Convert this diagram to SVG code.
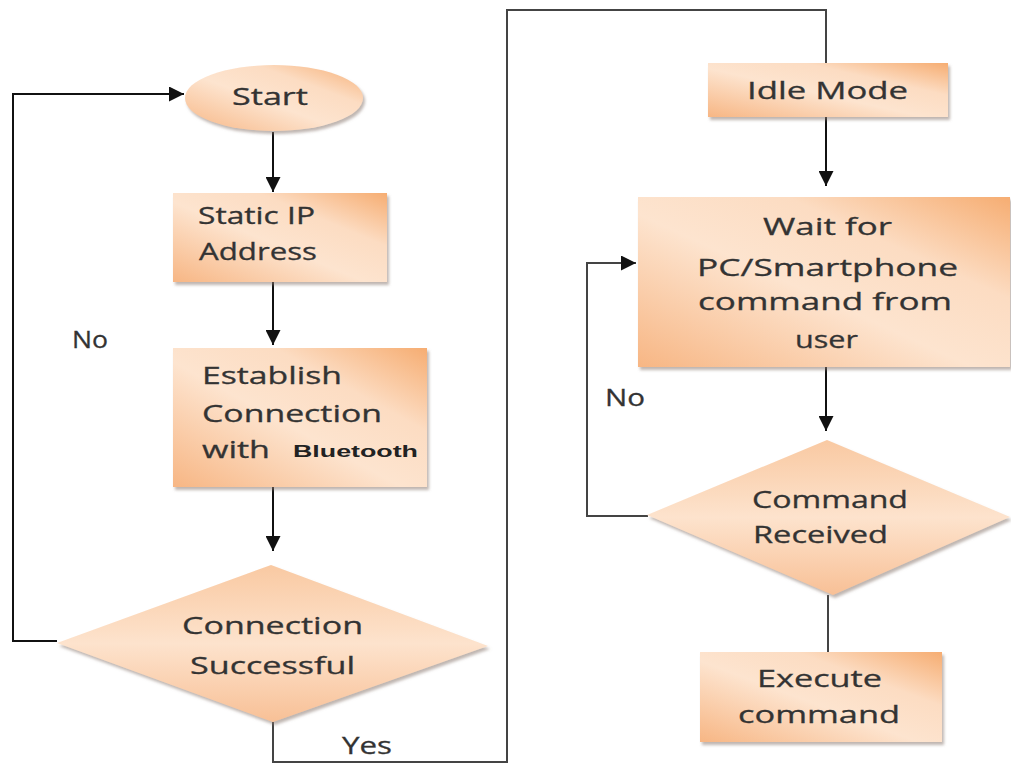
<svg xmlns="http://www.w3.org/2000/svg" width="1011" height="763" viewBox="0 0 1011 763">
  <defs>
    <linearGradient id="fillBox" x1="0" y1="1" x2="1" y2="0">
      <stop offset="0" stop-color="#f7b684"/>
      <stop offset="0.45" stop-color="#fde4cf"/>
      <stop offset="0.7" stop-color="#fcdcc2"/>
      <stop offset="1" stop-color="#f6ad72"/>
    </linearGradient>
    <linearGradient id="fillDiamond" x1="0" y1="0" x2="0" y2="1">
      <stop offset="0" stop-color="#f9c9a2"/>
      <stop offset="0.5" stop-color="#fde3cd"/>
      <stop offset="1" stop-color="#f8c096"/>
    </linearGradient>
    <filter id="shadow" x="-10%" y="-10%" width="125%" height="130%">
      <feDropShadow dx="2" dy="3" stdDeviation="1.5" flood-color="#8a7a70" flood-opacity="0.55"/>
    </filter>
    <marker id="arrow" viewBox="0 0 10 10" refX="10" refY="5" markerWidth="7.5" markerHeight="7.5" markerUnits="strokeWidth" orient="auto">
      <path d="M0,0 L10,5 L0,10 z" fill="#111"/>
    </marker>
  </defs>
  <style>
    .box { fill: url(#fillBox); filter: url(#shadow); }
    .dia { fill: url(#fillDiamond); filter: url(#shadow); }
    .lbl { font-family: "Open Sans", "Liberation Sans", sans-serif; font-size: 24px; fill: #333333; stroke: #333333; stroke-width: 0.3; }
    .bt { font-family: "Liberation Sans", Arial, sans-serif; font-size: 16px; font-weight: bold; fill: #222; }
    .ln { fill: none; stroke: #111; stroke-width: 2; }
    .ln2 { fill: none; stroke: #444; stroke-width: 2; }
  </style>
  <rect width="1011" height="763" fill="#ffffff"/>

  <!-- connectors -->
  <g id="connectors">
    <path class="ln" d="M273,132 V192" marker-end="url(#arrow)"/>
    <path class="ln" d="M273,282 V345" marker-end="url(#arrow)"/>
    <path class="ln" d="M273,487 V551" marker-end="url(#arrow)"/>
    <!-- No loop back to Start -->
    <path class="ln" d="M57,641 H13 V94 H184" marker-end="url(#arrow)"/>
    <!-- Yes path to Idle Mode -->
    <path class="ln2" d="M273,722 V762 H507 V10 H826 V63"/>
    <path class="ln" d="M826,117 V186" marker-end="url(#arrow)"/>
    <path class="ln" d="M826,367 V431" marker-end="url(#arrow)"/>
    <!-- No loop back to Wait -->
    <path class="ln2" d="M648,516 H587 V263 H636" marker-end="url(#arrow)"/>
    <path class="ln2" d="M828,595 V652"/>
  </g>

  <g id="start">
    <ellipse class="box" cx="274" cy="98" rx="89" ry="33"/>
    <text class="lbl" x="232" y="105" textLength="76" lengthAdjust="spacingAndGlyphs">Start</text>
  </g>

  <g id="static-ip">
    <rect class="box" x="173" y="193" width="214" height="89"/>
    <text class="lbl" x="198" y="224" textLength="117" lengthAdjust="spacingAndGlyphs">Static IP</text>
    <text class="lbl" x="199" y="260" textLength="118" lengthAdjust="spacingAndGlyphs">Address</text>
  </g>

  <g id="establish">
    <rect class="box" x="173" y="348" width="254" height="139"/>
    <text class="lbl" x="202" y="384" textLength="140" lengthAdjust="spacingAndGlyphs">Establish</text>
    <text class="lbl" x="202" y="422" textLength="180" lengthAdjust="spacingAndGlyphs">Connection</text>
    <text class="lbl" x="202" y="458" textLength="68" lengthAdjust="spacingAndGlyphs">with</text>
    <text class="bt" x="293" y="457" textLength="125" lengthAdjust="spacingAndGlyphs">Bluetooth</text>
  </g>

  <g id="connection-successful">
    <polygon class="dia" points="271,565 488,646 273,722 57,643"/>
    <text class="lbl" x="182" y="634" textLength="181" lengthAdjust="spacingAndGlyphs">Connection</text>
    <text class="lbl" x="190" y="674" textLength="165" lengthAdjust="spacingAndGlyphs">Successful</text>
  </g>

  <g id="idle-mode">
    <rect class="box" x="708" y="63" width="240" height="54"/>
    <text class="lbl" x="747" y="99" textLength="161" lengthAdjust="spacingAndGlyphs">Idle Mode</text>
  </g>

  <g id="wait">
    <rect class="box" x="638" y="197" width="372" height="170"/>
    <text class="lbl" x="763" y="235" textLength="129" lengthAdjust="spacingAndGlyphs">Wait for</text>
    <text class="lbl" x="697" y="276" textLength="261" lengthAdjust="spacingAndGlyphs">PC/Smartphone</text>
    <text class="lbl" x="698" y="310" textLength="254" lengthAdjust="spacingAndGlyphs">command from</text>
    <text class="lbl" x="795" y="348" textLength="63" lengthAdjust="spacingAndGlyphs">user</text>
  </g>

  <g id="command-received">
    <polygon class="dia" points="827,440 1010,517 833,595 647,515"/>
    <text class="lbl" x="752" y="508" textLength="156" lengthAdjust="spacingAndGlyphs">Command</text>
    <text class="lbl" x="753" y="543" textLength="135" lengthAdjust="spacingAndGlyphs">Received</text>
  </g>

  <g id="execute">
    <rect class="box" x="700" y="652" width="242" height="90"/>
    <text class="lbl" x="757" y="687" textLength="125" lengthAdjust="spacingAndGlyphs">Execute</text>
    <text class="lbl" x="738" y="723" textLength="162" lengthAdjust="spacingAndGlyphs">command</text>
  </g>

  <g id="labels">
    <text class="lbl" x="72" y="348" textLength="36" lengthAdjust="spacingAndGlyphs">No</text>
    <text class="lbl" x="605" y="406" textLength="40" lengthAdjust="spacingAndGlyphs">No</text>
    <text class="lbl" x="342" y="754" textLength="50" lengthAdjust="spacingAndGlyphs">Yes</text>
  </g>
</svg>
